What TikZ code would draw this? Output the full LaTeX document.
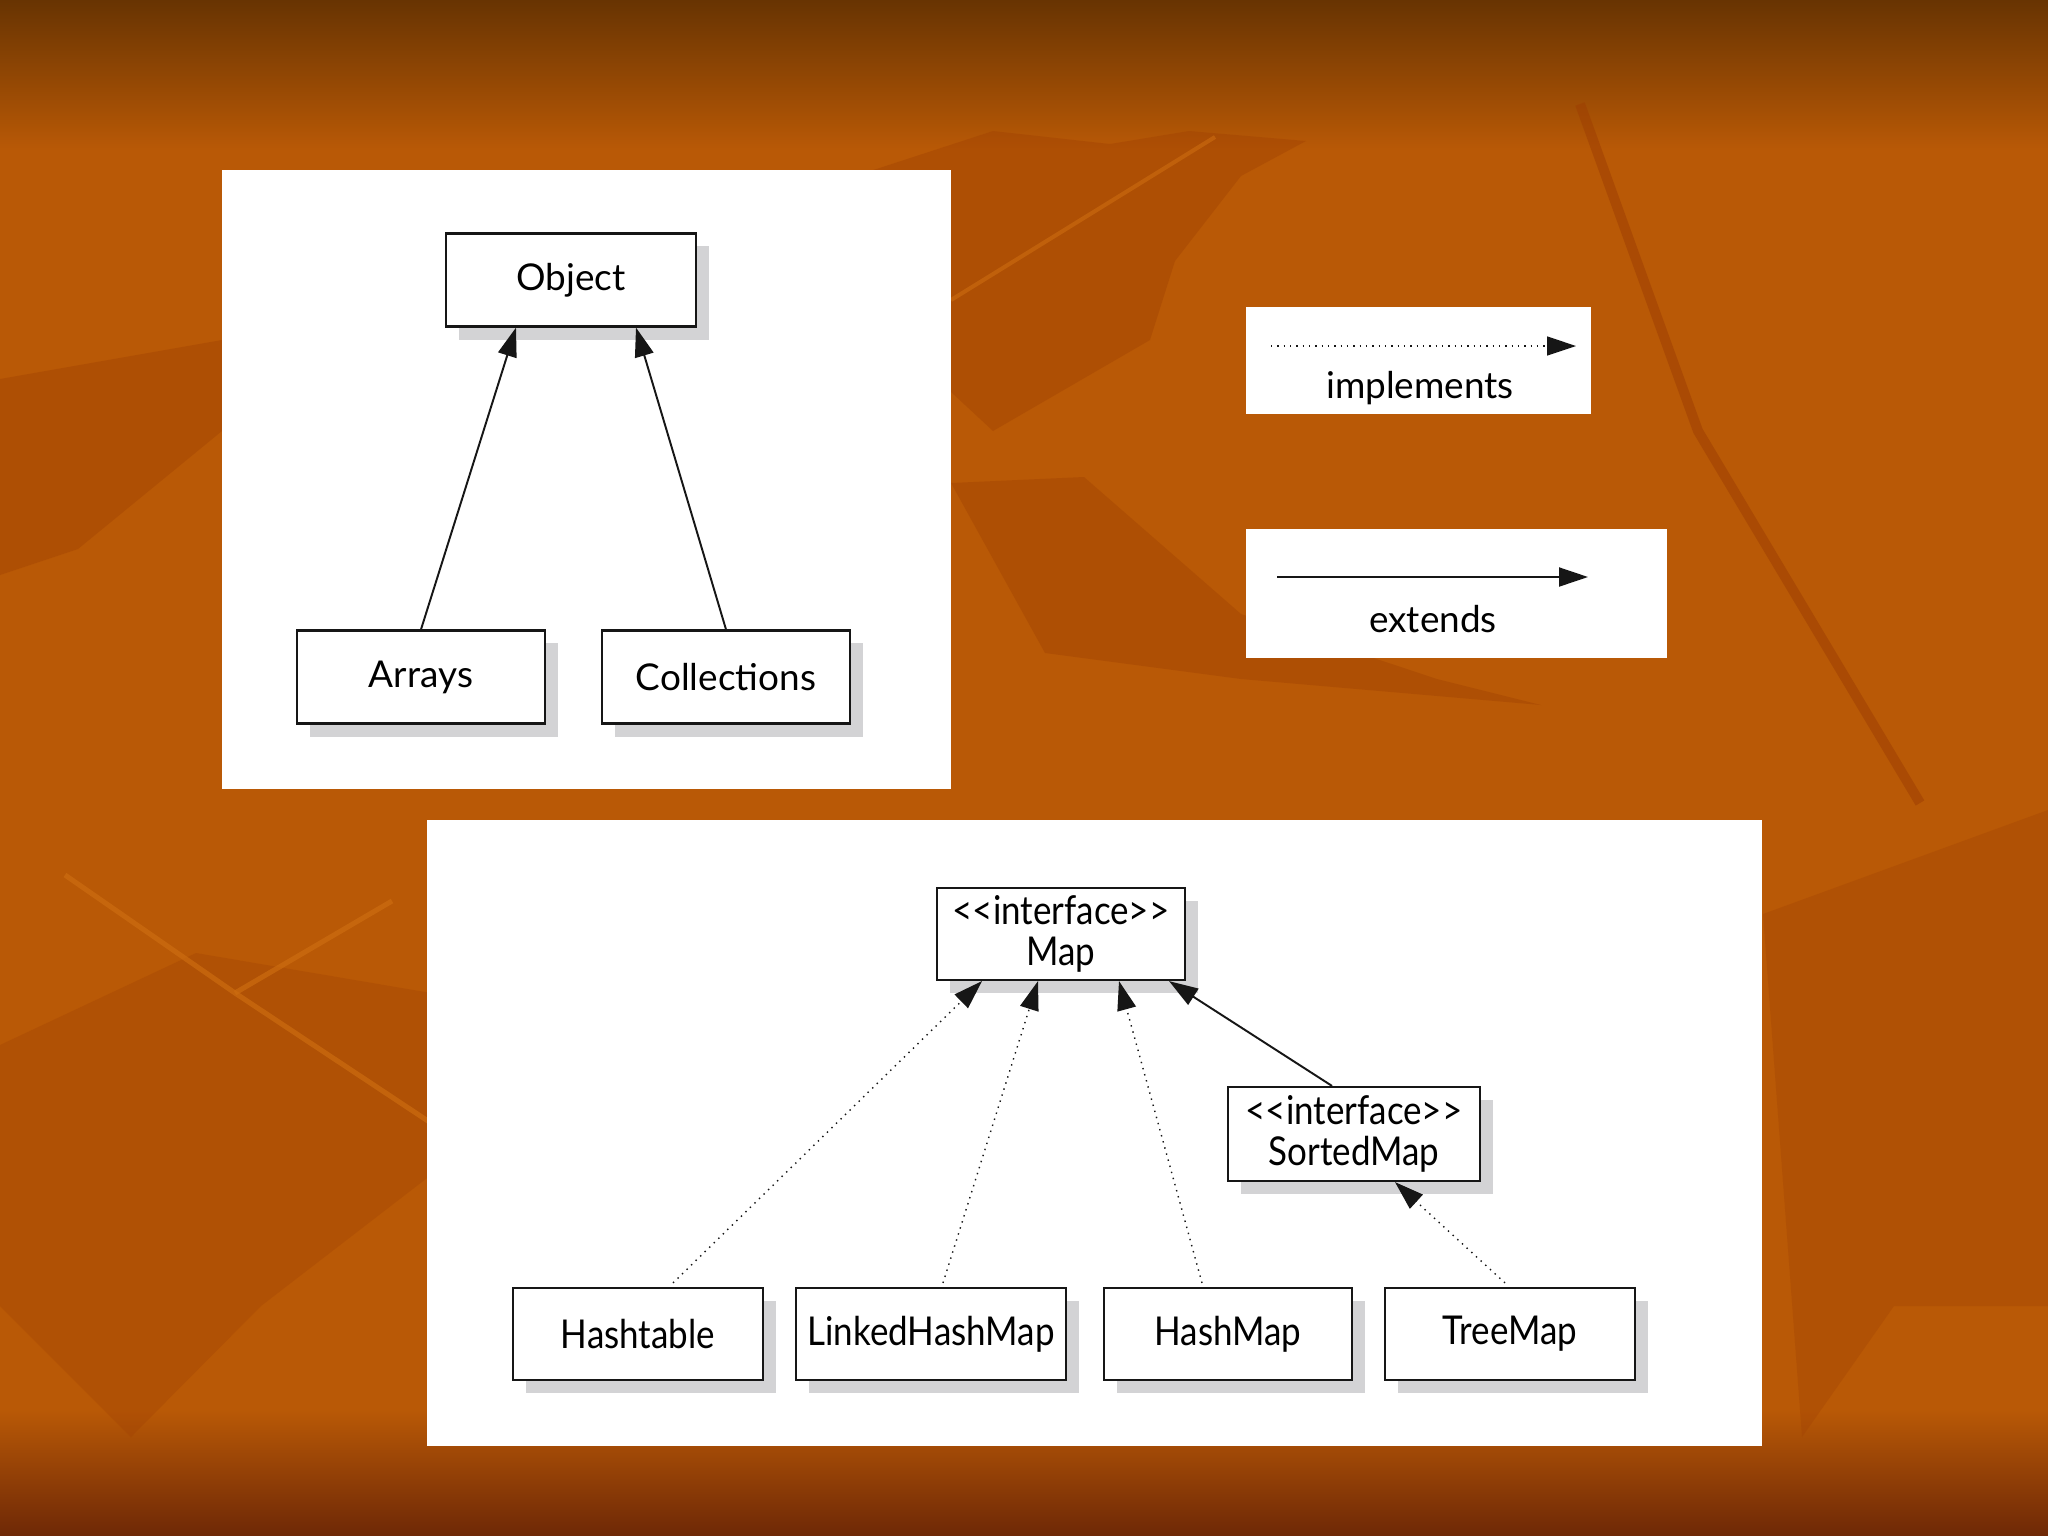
\documentclass[tikz,border=0pt]{standalone}
\usepackage{fontspec}
\setmainfont{Lato}
\newfontfamily\narrowfont[FakeStretch=0.88]{Lato}
\usepackage{tikz}
\usetikzlibrary{arrows.meta,positioning,calc,shadows}
\definecolor{ink}{HTML}{161616}
\definecolor{slide}{HTML}{B95906}
\definecolor{slidetop}{HTML}{683402}
\definecolor{slidebot}{HTML}{6E2806}
\definecolor{leaf}{HTML}{9E3F03}
\definecolor{vein}{HTML}{CC6C10}
\definecolor{shadowgray}{HTML}{D3D3D5}

\begin{document}
\begin{tikzpicture}[x=0.01cm,y=-0.01cm,>={Triangle[length=0.29cm,width=0.19cm]}]
\tikzset{cls/.style={draw=ink,line width=0.6pt,fill=white,minimum height=0.92cm,inner sep=1pt,align=center,drop shadow={shadow xshift=0.13cm,shadow yshift=-0.13cm,fill=shadowgray,opacity=1}}, toptext/.style={font=\fontsize{10.5}{12}\selectfont}, maptext/.style={font=\narrowfont\fontsize{11.3}{11.6}\selectfont}, extendsarrow/.style={->,draw=ink,line width=0.55pt}, implarrow/.style={->,draw=ink,line width=0.4pt,dash pattern=on 0.4pt off 1.4pt}, panel/.style={fill=white}, leafshape/.style={fill=leaf,opacity=0.38}}
\useasboundingbox (0,0) rectangle (2048,1536);
% slide background
\fill[slide] (0,0) rectangle (2048,1536);
\shade[top color=slidetop,bottom color=slide] (0,0) rectangle (2048,150);
\shade[top color=slide,bottom color=slidebot] (0,1410) rectangle (2048,1536);
\fill[leafshape] (855,176)--(993,131)--(1110,144)--(1189,131)--(1306,141)--(1241,176)--(1175,261)--(1150,340)--(993,431)--(951,392)--cycle;
\fill[leafshape] (951,483)--(1084,477)--(1241,614)--(1437,679)--(1541,705)--(1241,679)--(1045,653)--cycle;
\fill[leafshape] (0,379)--(222,340)--(222,431)--(78,549)--(0,575)--cycle;
\fill[leafshape,opacity=0.3] (0,1045)--(196,953)--(431,993)--(431,1175)--(261,1306)--(131,1437)--(0,1306)--cycle;
\fill[leafshape,opacity=0.3] (1763,914)--(2048,810)--(2048,1306)--(1894,1306)--(1802,1437)--cycle;
\draw[leaf,opacity=0.55,line width=0.1cm] (1580,104)--(1698,431)--(1920,803);
\draw[vein,opacity=0.7,line width=0.05cm] (65,875)--(235,993)--(431,1123);
\draw[vein,opacity=0.7,line width=0.05cm] (235,993)--(392,901);
\draw[vein,opacity=0.6,line width=0.04cm] (951,300)--(1215,137);
% white panels
\fill[panel] (222,170) rectangle (951,789);
\fill[panel] (1246,307) rectangle (1591,414);
\fill[panel] (1246,529) rectangle (1667,658);
\fill[panel] (427,820) rectangle (1762,1446);
% Object hierarchy
\node[cls,toptext,minimum width=2.49cm,minimum height=0.93cm] (object) at (571,280) {Object};
\node[cls,toptext,minimum width=2.47cm,minimum height=0.93cm] (arrays) at (421,677) {Arrays};
\node[cls,toptext,minimum width=2.48cm,minimum height=0.93cm] (collections) at (726,677) {Collections};
\draw[extendsarrow] (arrays.north) -- ($(object.south)+(-55,0)$);
\draw[extendsarrow] (collections.north) -- ($(object.south)+(65,0)$);
% legend
\coordinate (implstart) at (1271,346);
\coordinate (implend) at (1576,346);
\draw[implarrow] (implstart) -- (implend);
\node[toptext,anchor=base] (impllabel) at (1420,398) {implements};
\coordinate (extstart) at (1277,577);
\coordinate (extend) at (1588,577);
\draw[extendsarrow] (extstart) -- (extend);
\node[toptext,anchor=base] (extlabel) at (1433,632) {extends};
% Map hierarchy
\node[cls,maptext,minimum width=2.47cm] (map) at (1061,934) {<<interface>>\\Map};
\node[cls,maptext,minimum width=2.51cm,minimum height=0.94cm] (sortedmap) at (1354,1134) {<<interface>>\\SortedMap};
\node[cls,maptext,minimum width=2.50cm] (hashtable) at (638,1334) {Hashtable};
\node[cls,maptext,minimum width=2.69cm] (linkedhashmap) at (931,1334) {LinkedHashMap};
\node[cls,maptext,minimum width=2.48cm] (hashmap) at (1228,1334) {HashMap};
\node[cls,maptext,minimum width=2.49cm] (treemap) at (1510,1334) {TreeMap};
\draw[implarrow] ($(hashtable.north)+(35,-4)$) -- ($(map.south)+(-79,0)$);
\draw[implarrow] ($(linkedhashmap.north)+(12,-4)$) -- ($(map.south)+(-23,0)$);
\draw[implarrow] ($(hashmap.north)+(-26,-4)$) -- ($(map.south)+(58,0)$);
\draw[extendsarrow] ($(sortedmap.north)+(-22,0)$) -- ($(map.south)+(108,0)$);
\draw[implarrow] ($(treemap.north)+(-5,-4)$) -- ($(sortedmap.south)+(41,0)$);
\end{tikzpicture}
\end{document}
